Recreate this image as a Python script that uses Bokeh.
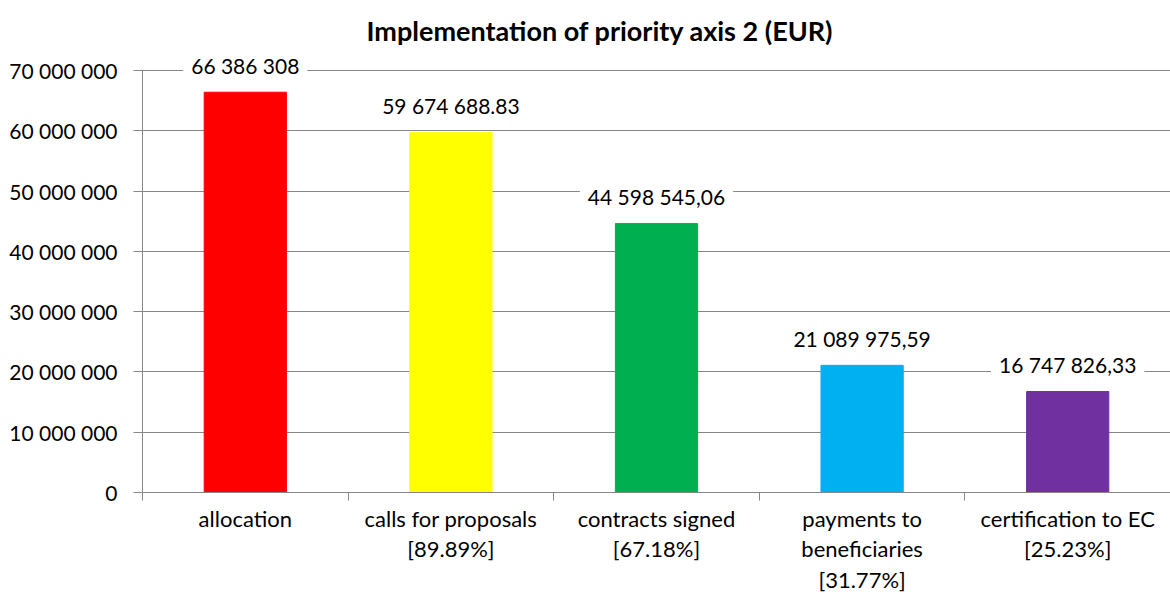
from bokeh.plotting import figure
from bokeh.models import ColumnDataSource, FixedTicker, Range1d, LabelSet
from bokeh.core.properties import value
from bokeh.embed import file_html
from bokeh.resources import INLINE

categories = ["allocation", "calls for proposals\n[89.89%]", "contracts signed\n[67.18%]",
              "payments to\nbeneficiaries\n[31.77%]", "certification to EC\n[25.23%]"]
values = [66386308, 59674688.83, 44598545.06, 21089975.59, 16747826.33]
value_labels = ["66 386 308", "59 674 688.83", "44 598 545,06", "21 089 975,59", "16 747 826,33"]
colors = ["#FF0000", "#FFFF00", "#00B050", "#00B0F0", "#7030A0"]
y_ticks = [0, 10000000, 20000000, 30000000, 40000000, 50000000, 60000000, 70000000]
y_tick_labels = ["0", "10 000 000", "20 000 000", "30 000 000", "40 000 000",
                 "50 000 000", "60 000 000", "70 000 000"]

FONT = "Lato"
GRAY = "#868686"

# layout: frame extends above the top gridline to leave room for the value labels
FRAME_TOP, TOP_GRID, ZERO = 44, 70, 493
y_max = y_ticks[-1]
y_end = y_max * (ZERO - FRAME_TOP) / (ZERO - TOP_GRID)

xs = [i + 0.5 for i in range(len(categories))]
src = ColumnDataSource(dict(x=xs, top=values, color=colors, lab=value_labels))

p = figure(width=1170, height=595, output_backend="svg", toolbar_location=None,
           x_range=Range1d(0, len(categories)), y_range=Range1d(0, y_end),
           min_border_left=142, min_border_right=0, min_border_top=FRAME_TOP,
           min_border_bottom=595 - ZERO,
           title="Implementation of priority axis 2 (EUR)")
p.outline_line_color = None
p.title.align = "left"
p.title.vertical_align = "middle"
p.title.text_font = FONT
p.title.text_font_size = "27px"
p.title.text_font_style = "bold"
p.title.text_color = "#000000"
p.title.offset = 224
p.title.standoff = -7

p.vbar(x="x", top="top", width=0.4, color="color", source=src)

vlabels = LabelSet(x="x", y="top", text="lab", source=src, text_align="center",
                   text_baseline="middle", y_offset=27, text_font=value(FONT),
                   text_font_size=value("21px"),
                   text_color="#000000", background_fill_color="white",
                   border_line_color="white", border_line_width=16)
p.add_layout(vlabels)

p.xgrid.grid_line_color = None
p.ygrid.grid_line_color = GRAY
p.ygrid.grid_line_width = 1
p.ygrid.ticker = FixedTicker(ticks=y_ticks)

p.yaxis.ticker = FixedTicker(ticks=y_ticks)
p.yaxis.bounds = (0, y_max)
p.yaxis.major_label_overrides = {t: l for t, l in zip(y_ticks, y_tick_labels)}
p.yaxis.minor_tick_line_color = None
p.yaxis.major_tick_out = 9
p.yaxis.major_tick_in = 0
p.yaxis.major_tick_line_color = GRAY
p.yaxis.axis_line_color = GRAY
p.yaxis.major_label_standoff = 16
p.yaxis.major_label_text_font = FONT
p.yaxis.major_label_text_font_size = "21px"
p.yaxis.major_label_text_color = "#000000"

p.xaxis.ticker = FixedTicker(ticks=xs, minor_ticks=list(range(len(categories) + 1)))
p.xaxis.major_label_overrides = {x: c for x, c in zip(xs, categories)}
p.xaxis.major_tick_line_color = None
p.xaxis.major_tick_out = 0
p.xaxis.major_tick_in = 0
p.xaxis.minor_tick_out = 8
p.xaxis.minor_tick_in = 0
p.xaxis.minor_tick_line_color = GRAY
p.xaxis.axis_line_color = GRAY
p.xaxis.major_label_standoff = 4
p.xaxis.major_label_text_font = FONT
p.xaxis.major_label_text_font_size = "22px"
p.xaxis.major_label_text_color = "#000000"
p.xaxis.major_label_text_line_height = 1.13

open("out.html", "w").write(file_html(p, INLINE))
